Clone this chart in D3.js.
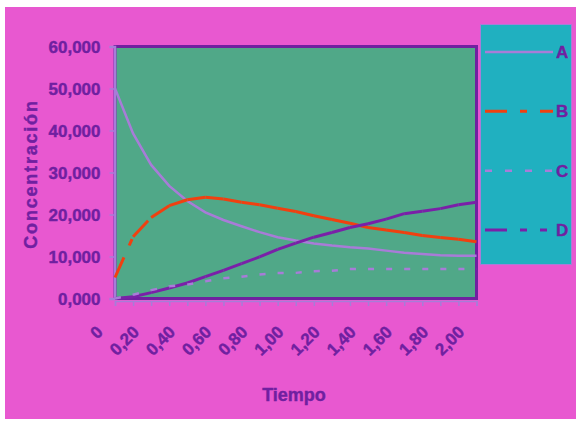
<!DOCTYPE html>
<html><head><meta charset="utf-8">
<script src="https://cdn.jsdelivr.net/npm/d3@7"></script>
<style>html,body{margin:0;padding:0;background:#fff;}svg{display:block;}</style>
</head><body>
<svg id="c" width="576" height="421"></svg>
<script>
const times = [0,0.1,0.2,0.3,0.4,0.5,0.6,0.7,0.8,0.9,1.0,1.1,1.2,1.3,1.4,1.5,1.6,1.7,1.8,1.9,2.0];
const seriesA = [50000,39300,31800,26800,23200,20500,18700,17200,15800,14600,13800,13100,12600,12200,11900,11400,10900,10600,10300,10200,10200];
const seriesB = [5000,14700,19300,22100,23500,24100,23700,22900,22300,21500,20700,19700,18800,17900,16900,16300,15700,15000,14500,14100,13500];
const seriesC = [0,900,2000,2900,3300,4100,4800,5200,5700,6100,6100,6500,6600,7000,7050,7050,7050,7050,7050,7050,7050];
const seriesD = [0,400,1400,2500,3700,5200,6700,8300,9900,11700,13200,14600,15700,16900,17800,18900,20200,20800,21400,22300,22900];
const seriesNames = ["A","B","C","D"];
const yTicks = [0,10000,20000,30000,40000,50000,60000];
const yTickLabels = ["0,000","10,000","20,000","30,000","40,000","50,000","60,000"];
const xMinorTicks = times;
const xLabelTicks = [0,0.2,0.4,0.6,0.8,1.0,1.2,1.4,1.6,1.8,2.0];
const xTickLabels = ["0","0,20","0,40","0,60","0,80","1,00","1,20","1,40","1,60","1,80","2,00"];

const svg = d3.select("#c");
const PINK="#e858d0", GREEN="#50a888", TEAL="#20b0c0", PURPLE="#7020a0", LAV="#a87cd8", ORANGE="#f04010", DPUR="#7a20a8";
const font = "'Liberation Sans', Arial, sans-serif";

svg.append("rect").attr("x",5).attr("y",7).attr("width",571).attr("height",412).attr("fill",PINK);

const x = d3.scaleLinear().domain([0,2]).range([115,476.5]);
const y = d3.scaleLinear().domain([0,60000]).range([298.5,46.5]);

// plot area
svg.append("rect").attr("x",x(0)).attr("y",y(60000)).attr("width",x(2)-x(0)).attr("height",y(0)-y(60000))
  .attr("fill",GREEN).attr("stroke",PURPLE).attr("stroke-width",3);

// axes
const yAxis = d3.axisLeft(y).tickValues(yTicks).tickSize(5).tickFormat((d,i)=>yTickLabels[i]);
const gy = svg.append("g").attr("transform",`translate(${x(0)-0.5},0)`).call(yAxis);
gy.select(".domain").attr("stroke",LAV).attr("stroke-width",2.5);
gy.selectAll(".tick line").attr("stroke",LAV).attr("stroke-width",1.5);
gy.selectAll(".tick text").attr("fill",PURPLE).attr("stroke",PURPLE).attr("stroke-width",0.4)
  .attr("font-family",font).attr("font-weight","bold")
  .attr("font-size","17px").attr("x",-14).attr("dy","0.36em");

const xAxis = d3.axisBottom(x).tickValues(xMinorTicks).tickSize(5).tickFormat("");
const gx = svg.append("g").attr("transform",`translate(0,${y(0)+2.5})`).call(xAxis);
gx.select(".domain").attr("stroke",LAV).attr("stroke-width",1.5);
gx.selectAll(".tick line").attr("stroke",LAV).attr("stroke-width",1.5);

svg.append("g").selectAll("text").data(xLabelTicks).join("text")
  .attr("transform",d=>`translate(${x(d)-11},333) rotate(-45)`)
  .attr("text-anchor","end").attr("fill",PURPLE).attr("stroke",PURPLE).attr("stroke-width",0.4)
  .attr("font-family",font).attr("font-weight","bold")
  .attr("font-size","17px").text((d,i)=>xTickLabels[i]);

// titles
svg.append("text").attr("x",294).attr("y",401).attr("text-anchor","middle").attr("fill",PURPLE)
  .attr("stroke",PURPLE).attr("stroke-width",0.4)
  .attr("font-family",font).attr("font-weight","bold").attr("font-size","18px").text("Tiempo");
svg.append("text").attr("transform","translate(37,174) rotate(-90)").attr("text-anchor","middle").attr("fill",PURPLE)
  .attr("stroke",PURPLE).attr("stroke-width",0.4)
  .attr("font-family",font).attr("font-weight","bold").attr("font-size","18px").attr("letter-spacing","1.8px").text("Concentración");

// series
const styles = [
  {vals:seriesA, color:LAV, w:2.5, dash:null},
  {vals:seriesB, color:ORANGE, w:3, dash:"22,13,7,13"},
  {vals:seriesC, color:LAV, w:2.5, dash:"6,12"},
  {vals:seriesD, color:DPUR, w:3, dash:"22,13,7,13,7,13"}
];
const line = d3.line().x(d=>x(d[0])).y(d=>y(d[1]));
const gs = svg.append("g");
[0,1,3,2].forEach(k=>{
  const s = styles[k];
  const pts = times.map((t,i)=>[t,s.vals[i]]);
  if(!s.dash){
    gs.append("path").attr("d",line(pts)).attr("fill","none").attr("stroke",s.color).attr("stroke-width",s.w);
  } else {
    for(let i=0;i<pts.length-1;i++){
      gs.append("path").attr("d",line([pts[i],pts[i+1]])).attr("fill","none").attr("stroke",s.color)
        .attr("stroke-width",s.w).attr("stroke-dasharray",s.dash);
    }
  }
});

// legend
svg.append("rect").attr("x",480.5).attr("y",24.5).attr("width",91).attr("height",240)
  .attr("fill",TEAL).attr("stroke",LAV).attr("stroke-width",1);
const ly = d3.scalePoint().domain(seriesNames).range([52,230]);
const lg = svg.append("g").selectAll("g").data(seriesNames).join("g").attr("transform",d=>`translate(0,${ly(d)})`);
lg.append("line").attr("x1",485).attr("x2",553).attr("y1",0).attr("y2",0)
  .attr("stroke",(d,i)=>styles[i].color).attr("stroke-width",(d,i)=>styles[i].w)
  .attr("stroke-dasharray",(d,i)=>styles[i].dash ? (i===2?"7,13":styles[i].dash) : null);
lg.append("text").attr("x",556).attr("y",0).attr("dy","0.36em").attr("fill",PURPLE)
  .attr("stroke",PURPLE).attr("stroke-width",0.4)
  .attr("font-family",font).attr("font-weight","bold").attr("font-size","17px").text(d=>d);
</script>
</body></html>
